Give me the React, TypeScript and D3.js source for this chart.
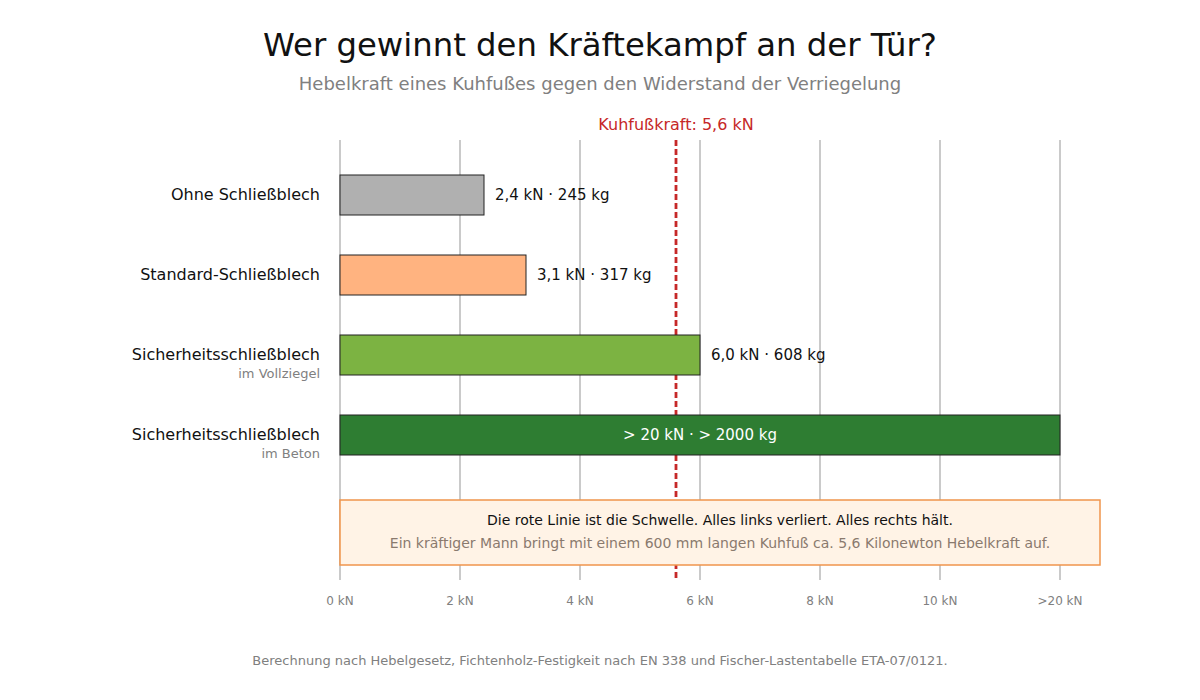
import { useRef, useEffect } from 'react';
import * as d3 from 'd3';

const categories = ['Ohne Schließblech', 'Standard-Schließblech', 'Sicherheitsschließblech', 'Sicherheitsschließblech'];
const subLabels = ['', '', 'im Vollziegel', 'im Beton'];
// last bar sits on the ">20 kN" axis position (12)
const barValues = [2.4, 3.1, 6.0, 12];
const valueLabels = ['2,4 kN · 245 kg', '3,1 kN · 317 kg', '6,0 kN · 608 kg', '> 20 kN · > 2000 kg'];
const barColors = ['#b0b0b0', '#ffb380', '#7cb342', '#2e7d32'];
const tickValues = [0, 2, 4, 6, 8, 10, 12];
const tickLabels = ['0 kN', '2 kN', '4 kN', '6 kN', '8 kN', '10 kN', '>20 kN'];
const threshold = 5.6;

const FONT = '"DejaVu Sans", sans-serif';

export default function App() {
  const svgRef = useRef<SVGSVGElement>(null);
  const width = 1200;
  const height = 700;

  useEffect(() => {
    const svg = d3.select(svgRef.current);
    svg.selectAll('*').remove();

    const x = d3.scaleLinear().domain([0, 12]).range([340, 1060]);
    const y = d3.scaleBand().domain(categories.map((_, i) => String(i))).range([155, 475]).paddingInner(0.5).paddingOuter(0.25);
    const top = 140;
    const bottom = 580;

    svg.append('rect').attr('width', width).attr('height', height).attr('fill', '#fff');

    // title
    svg.append('text')
      .attr('x', 600).attr('y', 56)
      .attr('text-anchor', 'middle')
      .attr('font-family', FONT).attr('font-size', 32.3)
      .attr('fill', '#111')
      .text('Wer gewinnt den Kräftekampf an der Tür?');
    svg.append('text')
      .attr('x', 600).attr('y', 90)
      .attr('text-anchor', 'middle')
      .attr('font-family', FONT).attr('font-size', 18)
      .attr('fill', '#808080')
      .text('Hebelkraft eines Kuhfußes gegen den Widerstand der Verriegelung');

    // grid
    svg.append('g').selectAll('line')
      .data(tickValues)
      .join('line')
      .attr('x1', (d) => x(d)).attr('x2', (d) => x(d))
      .attr('y1', top).attr('y2', bottom)
      .attr('stroke', '#b8b8b8').attr('stroke-width', 1.5);

    // tick labels
    svg.append('g').selectAll('text')
      .data(tickValues)
      .join('text')
      .attr('x', (d) => x(d)).attr('y', 605)
      .attr('text-anchor', 'middle')
      .attr('font-family', FONT).attr('font-size', 12)
      .attr('fill', '#808080')
      .text((_d, i) => tickLabels[i]);

    // threshold line (under the box)
    svg.append('line')
      .attr('x1', x(threshold)).attr('x2', x(threshold))
      .attr('y1', top).attr('y2', bottom)
      .attr('stroke', '#c62828').attr('stroke-width', 2.8)
      .attr('stroke-dasharray', '6,3');
    svg.append('text')
      .attr('x', x(threshold)).attr('y', 130)
      .attr('text-anchor', 'middle')
      .attr('font-family', FONT).attr('font-size', 16)
      .attr('fill', '#c62828')
      .text('Kuhfußkraft: 5,6 kN');

    // bars
    const bars = svg.append('g');
    bars.selectAll('rect')
      .data(barValues)
      .join('rect')
      .attr('x', x(0))
      .attr('y', (_d, i) => y(String(i))!)
      .attr('width', (d) => x(d) - x(0))
      .attr('height', y.bandwidth())
      .attr('fill', (_d, i) => barColors[i])
      .attr('stroke', '#222').attr('stroke-width', 1);

    // category labels
    const labels = svg.append('g');
    labels.selectAll('text.cat')
      .data(categories)
      .join('text')
      .attr('class', 'cat')
      .attr('x', 320)
      .attr('y', (_d, i) => y(String(i))! + y.bandwidth() / 2 + 5)
      .attr('text-anchor', 'end')
      .attr('font-family', FONT).attr('font-size', 16)
      .attr('fill', '#111')
      .text((d) => d);
    labels.selectAll('text.sub')
      .data(subLabels)
      .join('text')
      .attr('class', 'sub')
      .attr('x', 320)
      .attr('y', (_d, i) => y(String(i))! + y.bandwidth() / 2 + 23)
      .attr('text-anchor', 'end')
      .attr('font-family', FONT).attr('font-size', 13)
      .attr('fill', '#808080')
      .text((d) => d);

    // value labels
    svg.append('g').selectAll('text')
      .data(barValues)
      .join('text')
      .attr('x', (d, i) => (i === barValues.length - 1 ? (x(0) + x(d)) / 2 : x(d) + 11))
      .attr('y', (_d, i) => y(String(i))! + y.bandwidth() / 2 + 5)
      .attr('text-anchor', (_d, i) => (i === barValues.length - 1 ? 'middle' : 'start'))
      .attr('font-family', FONT).attr('font-size', 15)
      .attr('fill', (_d, i) => (i === barValues.length - 1 ? '#fff' : '#111'))
      .text((_d, i) => valueLabels[i]);

    // note box
    const boxX0 = x(0);
    const boxX1 = x(12) + 40;
    svg.append('rect')
      .attr('x', boxX0).attr('y', 500)
      .attr('width', boxX1 - boxX0).attr('height', 65)
      .attr('fill', '#fff3e6')
      .attr('stroke', '#f0954c').attr('stroke-width', 1.5);
    svg.append('text')
      .attr('x', (boxX0 + boxX1) / 2).attr('y', 525)
      .attr('text-anchor', 'middle')
      .attr('font-family', FONT).attr('font-size', 14)
      .attr('fill', '#111')
      .text('Die rote Linie ist die Schwelle. Alles links verliert. Alles rechts hält.');
    svg.append('text')
      .attr('x', (boxX0 + boxX1) / 2).attr('y', 548)
      .attr('text-anchor', 'middle')
      .attr('font-family', FONT).attr('font-size', 14)
      .attr('fill', '#8a7a6e')
      .text('Ein kräftiger Mann bringt mit einem 600 mm langen Kuhfuß ca. 5,6 Kilonewton Hebelkraft auf.');

    // footer
    svg.append('text')
      .attr('x', 600).attr('y', 665)
      .attr('text-anchor', 'middle')
      .attr('font-family', FONT).attr('font-size', 13)
      .attr('fill', '#808080')
      .text('Berechnung nach Hebelgesetz, Fichtenholz-Festigkeit nach EN 338 und Fischer-Lastentabelle ETA-07/0121.');
  }, []);

  return (
    <div style={{ position: 'absolute', left: 0, top: 0 }}>
      <svg ref={svgRef} width={width} height={height} style={{ display: 'block' }} />
    </div>
  );
}
